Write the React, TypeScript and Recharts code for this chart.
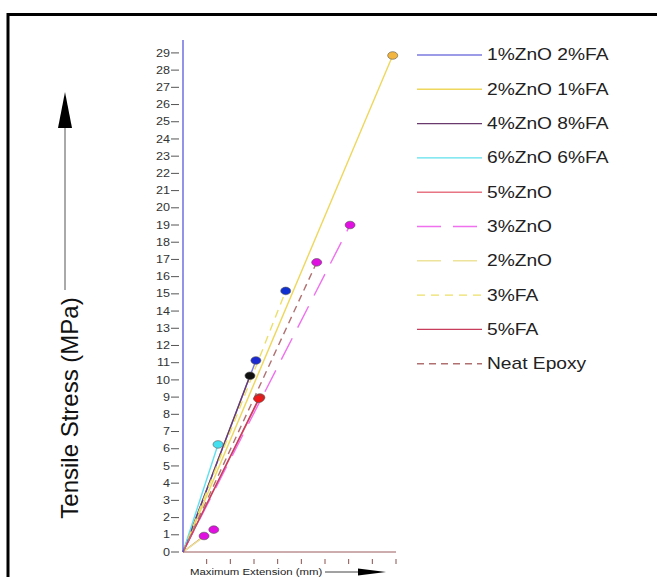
import React from "react";
import { LineChart, Line, XAxis, YAxis, Legend } from "recharts";

// legend order
const names = [
  "1%ZnO 2%FA",
  "2%ZnO 1%FA",
  "4%ZnO 8%FA",
  "6%ZnO 6%FA",
  "5%ZnO",
  "3%ZnO",
  "2%ZnO",
  "3%FA",
  "5%FA",
  "Neat Epoxy",
];

// end point of each curve (extension mm, stress MPa)
const endX = [3.08, 8.86, 2.83, 1.48, 3.25, 7.06, 1.3, 4.34, 3.2, 5.65];
const endY = [11.13, 28.85, 10.24, 6.25, 8.98, 19.0, 1.3, 15.17, 8.9, 16.83];

const lineColors = [
  "#7a7ae0",
  "#eed75c",
  "#6a3a6e",
  "#5fe0ee",
  "#e87584",
  "#f070ee",
  "#eee39a",
  "#ebdf6a",
  "#c83c5c",
  "#b07070",
];
const dashes = ["", "", "", "", "", "24 12", "24 12", "8 6", "", "7 5"];
const markerFill = [
  "#1a2ad0",
  "#f2b640",
  "#111111",
  "#44e0f0",
  "#f01818",
  "#e010e0",
  "#e010e0",
  "#1030d0",
  "#f01818",
  "#e010e0",
];

// short brown curve near the origin (not in legend)
const stubX = [0, 0.89];
const stubY = [0, 0.93];

const xTicks = [0, 1, 2, 3, 4, 5, 6, 7, 8, 9];
const yTicks = [
  0, 1, 2, 3, 4, 5, 6, 7, 8, 9, 10, 11, 12, 13, 14, 15, 16, 17, 18, 19, 20,
  21, 22, 23, 24, 25, 26, 27, 28, 29,
];

const FONT = "'Liberation Sans', Arial, sans-serif";

const makeDot = (fill: string) => (props: any) => {
  const { cx, cy, index } = props;
  if (index !== 1) return <g key={`d${index}`} />;
  return (
    <ellipse
      key={`d${index}`}
      cx={cx}
      cy={cy}
      rx={5}
      ry={3.8}
      fill={fill}
      stroke="#555"
      strokeWidth={0.6}
    />
  );
};

const YTick = (props: any) => {
  const { x, y, payload } = props;
  return (
    <g>
      <line x1={x - 4} x2={x + 4} y1={y} y2={y} stroke="#555" strokeWidth={1} />
      <text
        transform={`translate(${x - 5},${y}) scale(1.2,1)`}
        textAnchor="end"
        dominantBaseline="central"
        fontSize={10.5}
        fontFamily={FONT}
        fill="#333"
      >
        {payload.value}
      </text>
    </g>
  );
};

const XTick = (props: any) => {
  const { x, y } = props;
  if (props.payload.value === 0) return <g />;
  return <line x1={x} x2={x} y1={y - 1} y2={y + 4} stroke="#8a5050" strokeWidth={1} />;
};

const LegendBox = () => (
  <svg width={247} height={345}>
    {names.map((n, i) => {
      const cy = 17 + i * 34.3;
      return (
        <g key={n}>
          <line
            x1={7}
            x2={72}
            y1={cy}
            y2={cy}
            stroke={lineColors[i]}
            strokeWidth={1.4}
            strokeDasharray={dashes[i] || undefined}
          />
          <text
            transform={`translate(77,${cy}) scale(1.2,1)`}
            dominantBaseline="central"
            fontSize={16}
            fontFamily={FONT}
            fill="#222"
          >
            {n}
          </text>
        </g>
      );
    })}
  </svg>
);

export default function App() {
  return (
    <div
      style={{
        position: "absolute",
        left: 0,
        top: 0,
        width: 657,
        height: 577,
        overflow: "hidden",
        background: "#fff",
      }}
    >
      <LineChart
        width={657}
        height={577}
        margin={{ top: 40, left: 143, right: 261, bottom: 5 }}
      >
        <XAxis
          type="number"
          dataKey="x"
          domain={[0, 9]}
          ticks={xTicks}
          height={20}
          axisLine={{ stroke: "#9a5a5a" }}
          tickLine={false}
          tick={<XTick />}
        />
        <YAxis
          type="number"
          dataKey="y"
          domain={[0, 29.75]}
          ticks={yTicks}
          interval={0}
          width={40}
          axisLine={{ stroke: "#4a4ad8", strokeWidth: 1.2 }}
          tickLine={false}
          tick={<YTick />}
        />
        <Legend
          layout="vertical"
          align="center"
          verticalAlign="middle"
          content={<LegendBox />}
          wrapperStyle={{ left: 410, top: 38, width: 247, height: 345 }}
        />
        <Line
          data={stubX.map((x, i) => ({ x, y: stubY[i] }))}
          dataKey="y"
          stroke="#c0804a"
          strokeWidth={1.2}
          dot={makeDot("#e010e0")}
          legendType="none"
          isAnimationActive={false}
        />
        {names.map((n, i) => (
          <Line
            key={n}
            name={n}
            data={[
              { x: 0, y: 0 },
              { x: endX[i], y: endY[i] },
            ]}
            dataKey="y"
            stroke={lineColors[i]}
            strokeWidth={1.4}
            strokeDasharray={dashes[i] || undefined}
            dot={makeDot(markerFill[i])}
            isAnimationActive={false}
          />
        ))}
      </LineChart>
      <svg
        width={657}
        height={577}
        style={{ position: "absolute", left: 0, top: 0, pointerEvents: "none" }}
      >
        <rect x={8} y={14.5} width={700} height={600} fill="none" stroke="#000" strokeWidth={3} />
        <line x1={65} x2={65} y1={125} y2={290} stroke="#555" strokeWidth={1} />
        <polygon points="65,92 58,128 72,128" fill="#000" />
        <text
          transform="translate(69,408) rotate(-90)"
          textAnchor="middle"
          dominantBaseline="central"
          fontSize={24}
          fontFamily={FONT}
          fill="#111"
        >
          Tensile Stress (MPa)
        </text>
        <text
          transform="translate(190,575) scale(1.2,1)"
          fontSize={9.5}
          fontFamily={FONT}
          fill="#222"
        >
          Maximum Extension (mm)
        </text>
        <line x1={325} x2={362} y1={572} y2={572} stroke="#444" strokeWidth={1} />
        <polygon points="358,568.5 386,572 358,575.5" fill="#000" />
      </svg>
    </div>
  );
}
